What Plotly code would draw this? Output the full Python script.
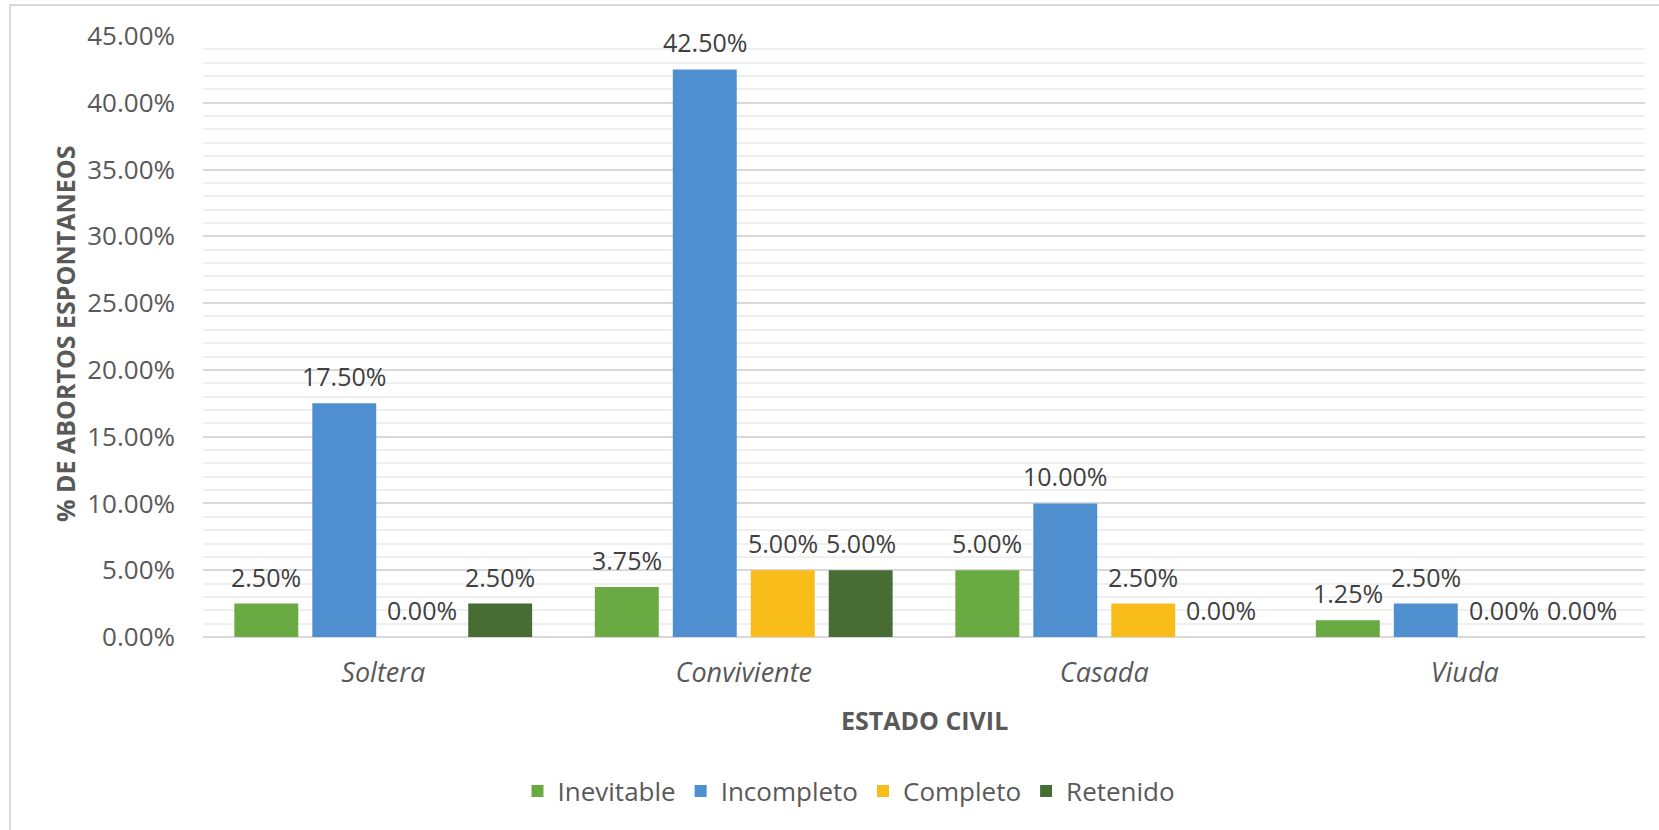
import plotly.graph_objects as go

# Abortos espontáneos según estado civil (%)
categorias = ["Soltera", "Conviviente", "Casada", "Viuda"]
series = ["Inevitable", "Incompleto", "Completo", "Retenido"]
inevitable = [2.50, 3.75, 5.00, 1.25]
incompleto = [17.50, 42.50, 10.00, 2.50]
completo = [0.00, 5.00, 2.50, 0.00]
retenido = [2.50, 5.00, 0.00, 0.00]
y_ticks = [0, 5, 10, 15, 20, 25, 30, 35, 40, 45]

valores = [inevitable, incompleto, completo, retenido]
colores = ["#6aaa42", "#4f8fd0", "#f8bd1a", "#486d34"]

FONT = "Open Sans"
W, H = 1659, 830
L, R, T, B = 203, 14, 36, 193
pw, ph = W - L - R, H - T - B
BARGAP = 0.135
GROUPGAP = 0.18


def px_x(x):
    return (x - L) / pw


def px_y(y):
    return (H - B - y) / ph


fig = go.Figure()
for nombre, vals, color in zip(series, valores, colores):
    fig.add_trace(go.Bar(
        name=nombre,
        x=categorias,
        y=vals,
        marker=dict(color=color, line=dict(width=0)),
        cliponaxis=False,
    ))

# Etiquetas de valor sobre cada barra (desplazadas al centro de su barra dentro del grupo)
cat_px = pw / len(categorias)
slot_px = (1 - BARGAP) * cat_px / len(series)
for i, vals in enumerate(valores):
    shift = (i - (len(series) - 1) / 2) * slot_px
    for cat, v in zip(categorias, vals):
        fig.add_annotation(
            x=cat, y=v, xref="x", yref="y",
            text=f"{v:.2f}%",
            showarrow=False,
            xanchor="center", yanchor="bottom",
            xshift=shift, yshift=8,
            font=dict(family=FONT, size=25, color="#404040"),
        )

fig.update_layout(
    width=W, height=H,
    margin=dict(l=L, r=R, t=T, b=B),
    paper_bgcolor="white",
    plot_bgcolor="white",
    barmode="group",
    bargap=BARGAP,
    bargroupgap=GROUPGAP,
    font=dict(family=FONT, color="#595959"),
    showlegend=True,
    legend=dict(
        orientation="h",
        x=px_x(849), xanchor="center",
        y=px_y(791), yanchor="middle",
        font=dict(family=FONT, size=26, color="#595959"),
        itemsizing="constant",
        traceorder="normal",
        bgcolor="rgba(0,0,0,0)",
    ),
)

fig.update_xaxes(
    showgrid=False,
    showline=False,
    ticks="",
    tickfont=dict(family=FONT, size=27, color="#595959", style="italic"),
    ticklabelstandoff=17,
)

fig.update_yaxes(
    range=[0, 45],
    tickvals=y_ticks,
    ticktext=[f"{v:.2f}%" for v in y_ticks],
    tickfont=dict(family=FONT, size=26, color="#595959"),
    ticklabelstandoff=27,
    showgrid=True,
    gridcolor="#d9d9d9",
    gridwidth=1.5,
    minor=dict(dtick=1, showgrid=True, gridcolor="#efefef", gridwidth=1.5),
    zeroline=True,
    zerolinecolor="#d9d9d9",
    zerolinewidth=2,
    showline=False,
    ticks="",
)

# Títulos de los ejes
fig.add_annotation(
    text="<b>% DE ABORTOS ESPONTANEOS</b>",
    xref="paper", yref="paper",
    x=px_x(65), y=px_y(334),
    textangle=-90, showarrow=False,
    xanchor="center", yanchor="middle",
    font=dict(family=FONT, size=25, color="#595959"),
)
fig.add_annotation(
    text="<b>ESTADO CIVIL</b>",
    xref="paper", yref="paper",
    x=px_x(924), y=px_y(720),
    showarrow=False,
    xanchor="center", yanchor="middle",
    font=dict(family=FONT, size=25, color="#595959"),
)

# Marco del área del gráfico
fig.add_shape(
    type="rect",
    xref="paper", yref="paper",
    x0=px_x(10), x1=px_x(1670),
    y0=px_y(840), y1=px_y(5),
    line=dict(color="#d9d9d9", width=2),
    fillcolor="rgba(0,0,0,0)",
    layer="below",
)

fig.write_html("out.html")
